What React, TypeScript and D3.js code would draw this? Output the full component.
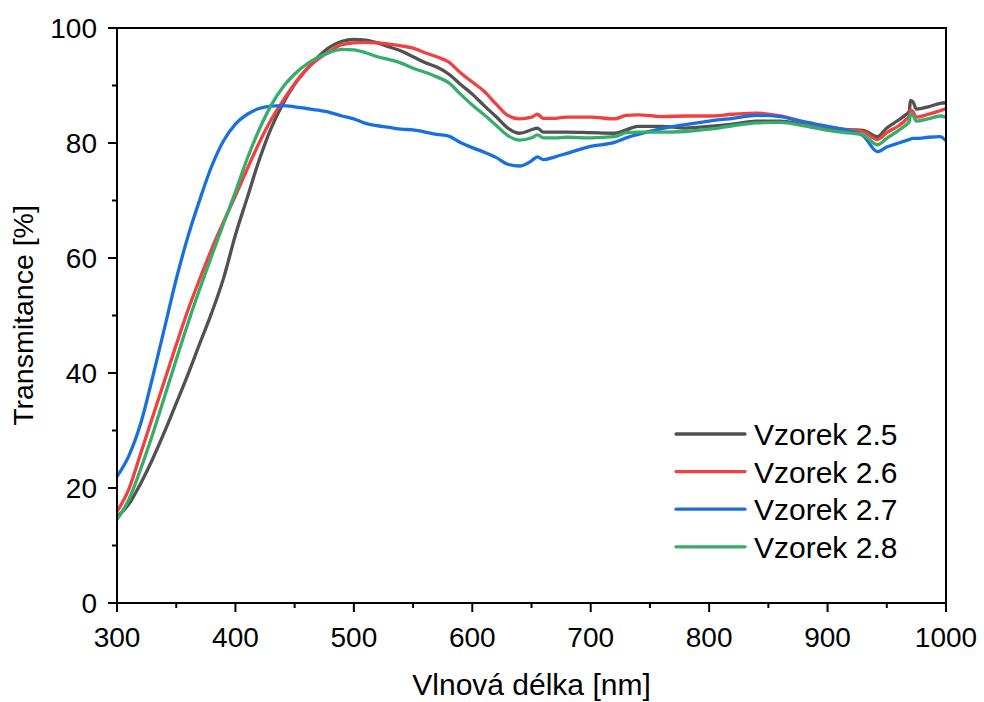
import React from "react";
import * as d3 from "d3";

const wavelengths = [
  300, 310, 320, 330, 340, 350, 360, 370, 380, 390, 400, 410, 420, 430, 440, 450, 460, 470, 480, 490,
  500, 510, 520, 530, 540, 550, 560, 570, 580, 590, 600, 610, 620, 630, 640,
  650, 655, 660, 670, 680, 700, 720, 730, 740,
  760, 780, 800, 820, 840, 860, 880, 900, 920, 930,
  942, 950, 960, 966, 969, 970, 972, 975, 985, 995, 1000,
];

const sample25 = [
  15, 17.2, 20.8, 25, 29.7, 34.7, 39.8, 45.2, 50.5, 56.5, 64, 70.5, 77, 82.5, 86.8, 90.2, 92.8, 95, 96.7, 97.7,
  98, 97.9, 97.4, 96.7, 96, 95, 94, 93.2, 92, 90.2, 88.5, 86.5, 84.6, 82.6, 81.7,
  82.3, 82.6, 81.9, 81.9, 81.9, 81.8, 81.7, 82.3, 82.9,
  82.9, 82.6, 82.9, 83.3, 83.8, 83.8, 83.2, 82.6, 82.3, 82.2,
  81.1, 82.6, 84, 84.9, 85.5, 87.4, 87.2, 85.9, 86.3, 86.9, 87,
];

const sample26 = [
  15.9, 19.8, 26, 32.3, 38.6, 44.9, 51, 56.4, 61.6, 66.3, 70.8, 75.5, 80, 84, 87.3, 90.3, 92.8, 94.6, 96, 97.1,
  97.4, 97.5, 97.4, 97.2, 96.9, 96.5, 95.7, 95, 94.1, 92.2, 90.6, 89, 86.8, 84.8, 84.2,
  84.5, 85, 84.3, 84.3, 84.5, 84.5, 84.2, 84.8, 84.9,
  84.6, 84.7, 84.7, 85, 85.2, 84.7, 83.6, 82.8, 82.2, 82,
  80.6, 81.8, 83, 84, 84.7, 85.7, 85.5, 84.5, 85, 85.6, 86,
];

const sample27 = [
  22, 25.6, 31.2, 39.2, 47.7, 56.3, 63.8, 70.2, 76.0, 80.4, 83.3, 85, 86, 86.4, 86.5, 86.3, 86, 85.7, 85.3, 84.7,
  84.2, 83.4, 83, 82.7, 82.4, 82.3, 81.9, 81.5, 81.2, 80.1, 79.2, 78.4, 77.5, 76.3, 76,
  76.9, 77.6, 77.1, 77.6, 78.2, 79.4, 80.1, 80.9, 81.5,
  82.5, 83.2, 83.8, 84.3, 84.8, 84.6, 83.7, 82.9, 82, 81.3,
  78.5, 79.3, 80, 80.4, 80.6, 80.7, 80.8, 80.8, 81, 81.1, 80.4,
];

const sample28 = [
  14.5, 18, 23.3, 29.3, 35.8, 42.3, 48.7, 54.7, 60.4, 66, 71.5, 77.3, 82.3, 86.5, 89.7, 92, 93.7, 94.9, 95.8, 96.3,
  96.2, 95.7, 95, 94.5, 93.9, 93, 92.3, 91.5, 90.5, 88.5, 86.6, 84.9, 83.1, 81.3, 80.5,
  80.9, 81.4, 80.9, 80.9, 81, 80.9, 81.1, 81.8, 81.9,
  81.9, 82, 82.4, 83, 83.5, 83.6, 83, 82.2, 81.7, 81.4,
  79.7, 80.8, 82.2, 83.1, 83.7, 85, 84.8, 83.8, 84.2, 84.7, 84.5,
];

const seriesNames = ["Vzorek 2.5", "Vzorek 2.6", "Vzorek 2.7", "Vzorek 2.8"];
const seriesValues = [sample25, sample26, sample27, sample28];
const seriesColors = ["#515151", "#F14040", "#1A6FDF", "#37AD6B"];

const xTicks = [300, 400, 500, 600, 700, 800, 900, 1000];
const xMinorTicks = [350, 450, 550, 650, 750, 850, 950];
const yTicks = [0, 20, 40, 60, 80, 100];
const yMinorTicks = [10, 30, 50, 70, 90];

const xTitle = "Vlnová délka [nm]";
const yTitle = "Transmitance [%]";

const W = 984;
const H = 702;
const M = { left: 117, right: 984 - 946, top: 28, bottom: 702 - 603 };
const FONT = "'Liberation Sans', Arial, Helvetica, sans-serif";

export default function App() {
  const x = d3.scaleLinear().domain([300, 1000]).range([M.left, W - M.right]);
  const y = d3.scaleLinear().domain([0, 100]).range([H - M.bottom, M.top]);
  const line = d3
    .line<[number, number]>()
    .x((d) => x(d[0]))
    .y((d) => y(d[1]))
    .curve(d3.curveMonotoneX);

  const x0 = x(300);
  const x1 = x(1000);
  const y0 = y(0);
  const y1 = y(100);

  return (
    <svg
      width={W}
      height={H}
      viewBox={`0 0 ${W} ${H}`}
      style={{ position: "absolute", left: 0, top: 0, background: "#fff" }}
      fontFamily={FONT}
    >
      <rect x={0} y={0} width={W} height={H} fill="#fff" />
      <defs>
        <clipPath id="plotClip">
          <rect x={x0} y={y1} width={x1 - x0} height={y0 - y1} />
        </clipPath>
      </defs>

      <g clipPath="url(#plotClip)">
        {seriesValues.map((vals, i) => (
          <path
            key={seriesNames[i]}
            d={line(wavelengths.map((w, k) => [w, vals[k]] as [number, number])) || ""}
            fill="none"
            stroke={seriesColors[i]}
            strokeWidth={3.3}
            strokeLinejoin="round"
            strokeLinecap="round"
          />
        ))}
      </g>

      {/* frame */}
      <rect x={x0} y={y1} width={x1 - x0} height={y0 - y1} fill="none" stroke="#000" strokeWidth={2} />

      {/* x ticks */}
      {xTicks.map((t) => (
        <g key={"xt" + t}>
          <line x1={x(t)} x2={x(t)} y1={y0} y2={y0 + 9} stroke="#000" strokeWidth={2} />
          <text x={x(t)} y={y0 + 44} textAnchor="middle" fontSize={28} fill="#000">
            {t}
          </text>
        </g>
      ))}
      {xMinorTicks.map((t) => (
        <line key={"xm" + t} x1={x(t)} x2={x(t)} y1={y0} y2={y0 + 5} stroke="#000" strokeWidth={2} />
      ))}

      {/* y ticks */}
      {yTicks.map((t) => (
        <g key={"yt" + t}>
          <line x1={x0 - 9} x2={x0} y1={y(t)} y2={y(t)} stroke="#000" strokeWidth={2} />
          <text x={x0 - 20} y={y(t) + 10} textAnchor="end" fontSize={28} fill="#000">
            {t}
          </text>
        </g>
      ))}
      {yMinorTicks.map((t) => (
        <line key={"ym" + t} x1={x0 - 5} x2={x0} y1={y(t)} y2={y(t)} stroke="#000" strokeWidth={2} />
      ))}

      {/* axis titles */}
      <text x={(x0 + x1) / 2} y={695} textAnchor="middle" fontSize={30} fill="#000">
        {xTitle}
      </text>
      <text
        transform={`translate(${33},${(y0 + y1) / 2}) rotate(-90)`}
        textAnchor="middle"
        fontSize={28.5}
        fill="#000"
      >
        {yTitle}
      </text>

      {/* legend */}
      {seriesNames.map((name, i) => {
        const ly = 434 + i * 37.6;
        return (
          <g key={"lg" + name}>
            <line x1={676} x2={745} y1={ly} y2={ly} stroke={seriesColors[i]} strokeWidth={3.3} strokeLinecap="round" />
            <text x={754} y={ly + 11} fontSize={30} fill="#000">
              {name}
            </text>
          </g>
        );
      })}
    </svg>
  );
}
